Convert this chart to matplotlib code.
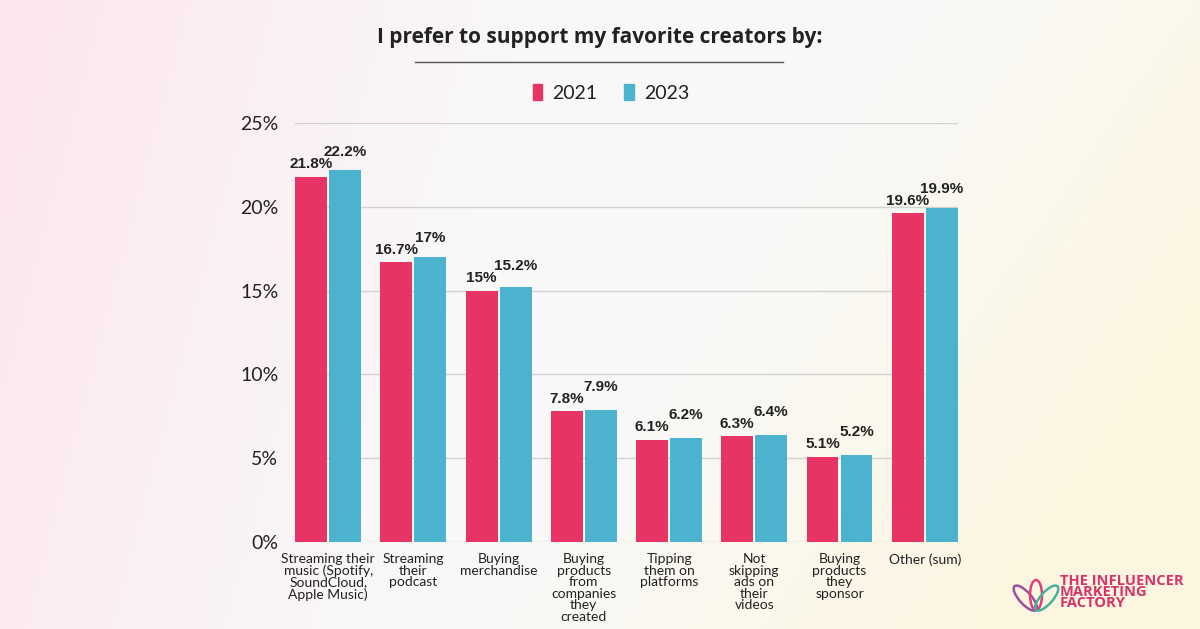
import matplotlib.pyplot as plt
import matplotlib.patches as mpatches
import numpy as np

# ── Data ───────────────────────────────────────────────────
categories = [
    "Streaming their\nmusic (Spotify,\nSoundCloud,\nApple Music)",
    "Streaming\ntheir\npodcast",
    "Buying\nmerchandise",
    "Buying\nproducts\nfrom\ncompanies\nthey\ncreated",
    "Tipping\nthem on\nplatforms",
    "Not\nskipping\nads on\ntheir\nvideos",
    "Buying\nproducts\nthey\nsponsor",
    "Other (sum)",
]
vals_2021 = [21.8, 16.7, 15.0, 7.8, 6.1, 6.3, 5.1, 19.6]
vals_2023 = [22.2, 17.0, 15.2, 7.9, 6.2, 6.4, 5.2, 19.9]
yticks = [0, 5, 10, 15, 20, 25]

# ── Style ──────────────────────────────────────────────────
PINK = "#E73465"
BLUE = "#4BB3CD"
TEXT = "#222222"
GRID = "#D2D2D2"

fig = plt.figure(figsize=(12, 6.29), dpi=100)

# soft background gradient: pink on the left, pale yellow at bottom right
bg = fig.add_axes([0, 0, 1, 1], zorder=-10)
gx, gy = np.meshgrid(np.linspace(0, 1, 300), np.linspace(0, 1, 160))
pink = np.array([0.99, 0.90, 0.93])
white = np.array([0.975, 0.975, 0.975])
yellow = np.array([0.99, 0.965, 0.88])
w_pink = np.clip(1 - gx * 2.2 - gy * 0.3, 0, 1)[..., None]
w_yel = np.clip((gx - 0.6) * 2.2 + (gy - 0.4) * 0.8, 0, 1)[..., None]
img = white * (1 - w_pink - w_yel).clip(0, 1) + pink * w_pink + yellow * w_yel
bg.imshow(img, aspect="auto", extent=[0, 1, 0, 1], origin="upper")
bg.set_xlim(0, 1)
bg.set_ylim(0, 1)
bg.axis("off")

ax = fig.add_axes([0.2458, 0.1383, 0.5525, 0.6662])
ax.set_facecolor("none")

x = np.arange(len(categories))
width = 0.375
gap = 0.012
b1 = ax.bar(x - width / 2 - gap, vals_2021, width, color=PINK, label="2021", zorder=3)
b2 = ax.bar(x + width / 2 + gap, vals_2023, width, color=BLUE, label="2023", zorder=3)

ax.set_xlim(-0.39, len(categories) - 1 + 0.39)
ax.set_ylim(0, 25)

# value labels; 2023 label is lifted when it would collide with the 2021 one
lbl_kw = dict(textcoords="offset points", ha="center", va="bottom", fontsize=11,
              fontweight="bold", color=TEXT, family="Liberation Sans", zorder=4)
renderer = fig.canvas.get_renderer()
for bp, bb, vp, vb in zip(b1, b2, vals_2021, vals_2023):
    tp = ax.annotate(f"{vp:g}%", (bp.get_x() + bp.get_width() / 2, vp), xytext=(0, 4), **lbl_kw)
    tb = ax.annotate(f"{vb:g}%", (bb.get_x() + bb.get_width() / 2, vb), xytext=(0, 4), **lbl_kw)
    ep = tp.get_window_extent(renderer)
    eb = tb.get_window_extent(renderer)
    if eb.x0 < ep.x1 + 1:
        # lift so the blue label bottom sits ~12 px above the pink label bottom
        lift_px = (ep.y0 + 12) - eb.y0
        tb.xyann = (0, 4 + lift_px * 72 / fig.dpi)

ax.set_yticks(yticks)
ax.set_yticklabels([f"{t}%" for t in yticks], fontsize=14, color=TEXT, family="Lato")
ax.yaxis.grid(True, color=GRID, linewidth=1, zorder=0)
ax.set_axisbelow(True)
ax.tick_params(axis="y", length=0, pad=12)
ax.set_xticks(x)
ax.set_xticklabels(categories, fontsize=10, color=TEXT, family="Lato", linespacing=0.95)
ax.tick_params(axis="x", length=0, pad=8)
for s in ax.spines.values():
    s.set_visible(False)

# title + rule
fig.text(0.5, 0.941, "I prefer to support my favorite creators by:", ha="center", va="center",
         fontsize=15, fontweight="bold", color=TEXT, family="Open Sans")
fig.add_artist(plt.Line2D([415 / 1200, 783 / 1200], [1 - 62 / 629] * 2, color="#555555", linewidth=1))

# legend
leg = fig.legend(handles=[mpatches.Patch(color=PINK, label="2021"),
                          mpatches.Patch(color=BLUE, label="2023")],
                 loc="center", bbox_to_anchor=(0.509, 1 - 93 / 629), ncol=2, frameon=False,
                 handlelength=0.5, handleheight=0.9, handletextpad=0.5, columnspacing=1.4,
                 prop={"family": "Lato", "size": 14})
for t in leg.get_texts():
    t.set_color(TEXT)

# logo
LOGO = "#D7336A"
fig.text(1060 / 1200, 1 - 592 / 629, "THE INFLUENCER\nMARKETING\nFACTORY", ha="left", va="center",
         fontsize=10.5, fontweight="bold", color=LOGO, family="Open Sans", linespacing=0.75)
base = np.array([10.36, (629 - 610) / 100])  # petal base, inches
for ang, h, col in ((42, 0.32, "#9A4FA0"), (0, 0.30, "#E0407A"), (-42, 0.32, "#45B39A")):
    u = np.array([-np.sin(np.radians(ang)), np.cos(np.radians(ang))])
    cen = base + u * h / 2
    fig.add_artist(mpatches.Ellipse(cen, 0.12, h, angle=ang, fill=False, edgecolor=col,
                                    linewidth=1.8, transform=fig.dpi_scale_trans))

plt.savefig("out.png", dpi=100)
